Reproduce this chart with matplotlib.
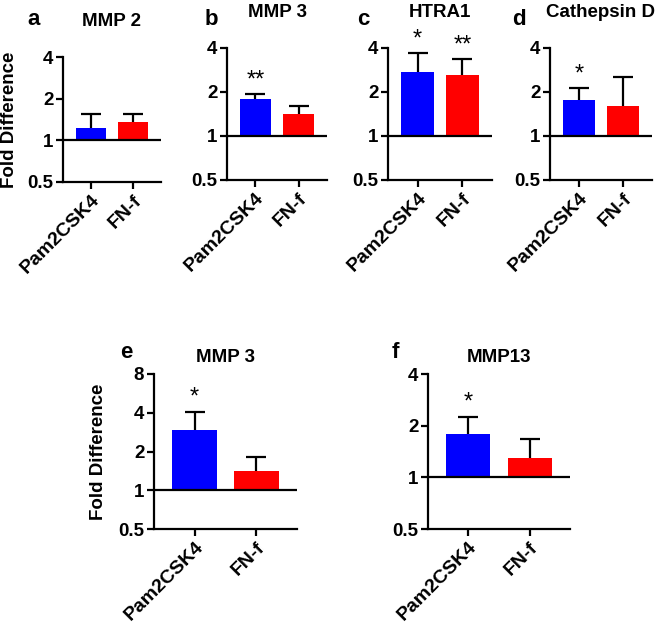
import matplotlib
matplotlib.use('Agg')
import matplotlib.pyplot as plt
import numpy as np

plt.rcParams['font.family'] = ['Liberation Sans', 'DejaVu Sans']
plt.rcParams['font.weight'] = 'bold'

groups = ['Pam2CSK4', 'FN-f']
colors = ['#0000FF', '#FF0000']

# fold change (mean) and upper error per panel
mmp2_mean = [1.22, 1.35]
mmp2_err = [0.32, 0.21]
mmp3_mean = [1.79, 1.41]
mmp3_err = [0.15, 0.19]
htra1_mean = [2.74, 2.61]
htra1_err = [0.96, 0.75]
catd_mean = [1.76, 1.60]
catd_err = [0.37, 0.93]
mmp3b_mean = [2.96, 1.40]
mmp3b_err = [1.12, 0.40]
mmp13_mean = [1.79, 1.30]
mmp13_err = [0.47, 0.38]

yticks_small = [0.5, 1, 2, 4]
yticks_big = [0.5, 1, 2, 4, 8]

panels = [
    # letter, title, mean, err, stars, ticks, rect(px: left, right, top, bottom), title pad
    ('a', 'MMP 2', mmp2_mean, mmp2_err, ['', ''], yticks_small, (63, 161, 57, 182), 22),
    ('b', 'MMP 3', mmp3_mean, mmp3_err, ['**', ''], yticks_small, (227, 327, 48, 180), 22),
    ('c', 'HTRA1', htra1_mean, htra1_err, ['*', '**'], yticks_small, (388, 492, 48, 180), 22),
    ('d', 'Cathepsin D', catd_mean, catd_err, ['*', ''], yticks_small, (550, 652, 48, 180), 22),
    ('e', 'MMP 3', mmp3b_mean, mmp3b_err, ['*', ''], yticks_big, (154, 297, 374, 529), 8.5),
    ('f', 'MMP13', mmp13_mean, mmp13_err, ['*', ''], yticks_small, (428, 570, 374, 529), 8.5),
]
letter_pos = {'a': (27, 25), 'b': (205, 25), 'c': (357, 25), 'd': (512, 25),
              'e': (120, 358), 'f': (392, 358)}

W, H = 660, 625
fig = plt.figure(figsize=(W / 100, H / 100), dpi=100)

for letter, title, mean, err, stars, ticks, (l, r, t, b), tpad in panels:
    ax = fig.add_axes([l / W, 1 - b / H, (r - l) / W, (b - t) / H])
    x = np.arange(len(groups))
    heights = np.array(mean) - 1
    ax.bar(x, heights, bottom=1, width=0.72, color=colors, zorder=2)
    eb = ax.errorbar(x, mean, yerr=[np.zeros(len(mean)), err], fmt='none',
                     ecolor='black', elinewidth=1.6, capsize=7, capthick=1.6, zorder=1)
    eb[1][0].set_visible(False)
    ax.axhline(1, color='black', lw=1.6, zorder=3)
    for xi, m, e, s in zip(x, mean, err, stars):
        if s:
            ax.annotate(s, (xi, m + e), xytext=(0, 2), textcoords='offset points',
                        ha='center', va='bottom', fontsize=17, fontweight='normal')
    ax.set_yscale('log', base=2)
    ax.set_ylim(ticks[0], ticks[-1])
    ax.set_yticks(ticks)
    ax.set_yticklabels([('%g' % v) for v in ticks])
    ax.minorticks_off()
    ax.set_xlim(-0.66, 1.66)
    ax.set_xticks(x)
    ax.set_xticklabels(groups, rotation=45, ha='right', rotation_mode='anchor', fontsize=14)
    for sp in ['top', 'right']:
        ax.spines[sp].set_visible(False)
    for sp in ['left', 'bottom']:
        ax.spines[sp].set_linewidth(1.6)
    ax.tick_params(axis='both', width=1.6, length=5, pad=2)
    ax.tick_params(axis='y', labelsize=13.5)
    ax.set_title(title, fontsize=13.5, fontweight='bold', pad=tpad)
    if letter == 'a':
        ax.set_ylabel('Fold Difference', fontsize=13.5, fontweight='bold')
        ax.yaxis.set_label_coords(-0.46, 0.5)
    if letter == 'e':
        ax.set_ylabel('Fold Difference', fontsize=13.5, fontweight='bold')
        ax.yaxis.set_label_coords(-0.33, 0.5)
    lx, ly = letter_pos[letter]
    fig.text(lx / W, 1 - ly / H, letter, fontsize=16, fontweight='bold',
             ha='left', va='baseline')

fig.savefig('out.png', dpi=100)
